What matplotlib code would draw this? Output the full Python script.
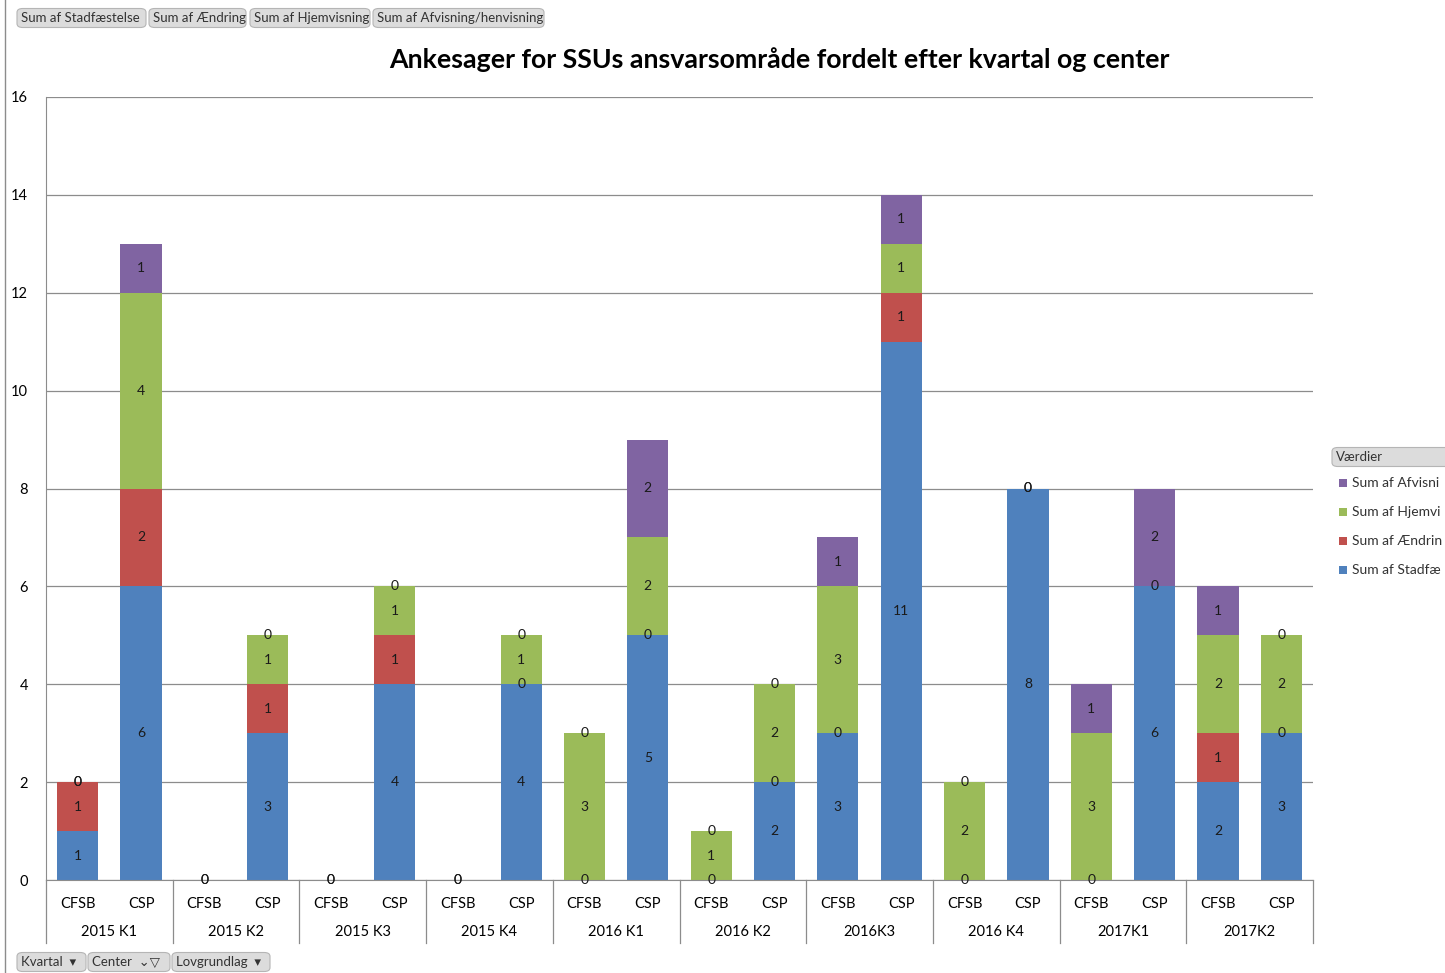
import matplotlib.pyplot as plt
from matplotlib.patches import FancyBboxPatch, Rectangle
import numpy as np

plt.rcParams['font.family'] = ['Lato', 'DejaVu Sans']

kvartaler = ['2015 K1', '2015 K2', '2015 K3', '2015 K4', '2016 K1',
             '2016 K2', '2016K3', '2016 K4', '2017K1', '2017K2']
centre = ['CFSB', 'CSP']
nan = np.nan

# one value per bar: CFSB, CSP for each quarter (nan = no record)
stadfaestelse = [1, 6, 0, 3, 0, 4, 0, 4, 0, 5, 0, 2, 3, 11, 0, 8, 0, 6, 2, 3]
aendring = [1, 2, nan, 1, nan, 1, nan, 0, nan, 0, nan, 0, 0, 1, nan, 0, nan, 0, 1, 0]
hjemvisning = [0, 4, 0, 1, 0, 1, 0, 1, 3, 2, 1, 2, 3, 1, 2, nan, 3, nan, 2, 2]
afvisning = [0, 1, nan, 0, nan, 0, nan, 0, 0, 2, 0, 0, 1, 1, 0, 0, 1, 2, 1, 0]

series = [('Sum af Stadfæstelse', stadfaestelse, '#4F81BD'),
          ('Sum af Ændring', aendring, '#C0504D'),
          ('Sum af Hjemvisning', hjemvisning, '#9BBB59'),
          ('Sum af Afvisning/henvisning', afvisning, '#8064A2')]

W, H = 1445, 973
fig = plt.figure(figsize=(W / 100, H / 100), dpi=100)
L, R, T, B = 46, 1313, 97, 880
ax = fig.add_axes([L / W, 1 - B / H, (R - L) / W, (B - T) / H])

x = np.arange(len(kvartaler) * len(centre))
bottom = np.zeros(len(x))
for name, vals, col in series:
    v = np.array(vals, dtype=float)
    h = np.nan_to_num(v)
    ax.bar(x, h, 0.65, bottom=bottom, color=col, zorder=2)
    for i in range(len(x)):
        if not np.isnan(v[i]):
            ax.text(x[i], bottom[i] + h[i] / 2, '%d' % v[i], ha='center', va='center',
                    fontsize=10, color='#1a1a1a', zorder=3)
    bottom += h

ax.set_xlim(-0.5, len(x) - 0.5)
ax.set_ylim(0, 16)
ax.set_yticks(range(0, 17, 2))
ax.yaxis.grid(True, color='#8c8c8c', lw=0.9, zorder=0)
ax.tick_params(axis='y', length=0, pad=13, labelsize=10.5)
ax.tick_params(axis='x', length=0, pad=12, labelsize=10.5)
ax.set_xticks(x)
ax.set_xticklabels(centre * len(kvartaler))
for s in ['top', 'right']:
    ax.spines[s].set_visible(False)
ax.spines['left'].set_color('#8c8c8c')
ax.spines['bottom'].set_color('#8c8c8c')

# quarter labels and group separators
trans = ax.get_xaxis_transform()
for k, q in enumerate(kvartaler):
    ax.text(2 * k + 0.5, -0.0665, q, transform=trans, ha='center', va='center', fontsize=10.5)
for b in np.arange(-0.5, len(x), 2):
    ax.plot([b, b], [0, -0.08], transform=trans, color='#8c8c8c', lw=0.9, clip_on=False)

fig.text(779 / W, 1 - 60 / H, 'Ankesager for SSUs ansvarsområde fordelt efter kvartal og center',
         ha='center', va='center', fontsize=19.3, fontweight='bold')

# chart area border on the left
fig.add_artist(plt.Line2D([5 / W, 5 / W], [0, 1], color='#8c8c8c', lw=1))


def knap(x0, x1, yc, label, fs=9.5):
    hgt = 19
    fig.add_artist(FancyBboxPatch((x0 / W, 1 - (yc + hgt / 2) / H), (x1 - x0) / W, hgt / H,
                                  boxstyle='round,pad=0,rounding_size=0.004',
                                  fc='#dcdcdc', ec='#b5b5b5', lw=0.8, transform=fig.transFigure))
    fig.text((x0 + 4) / W, 1 - yc / H, label, ha='left', va='center', fontsize=fs, color='#333333')


knap(17, 146, 18, 'Sum af Stadfæstelse')
knap(149, 246, 18, 'Sum af Ændring')
knap(250, 370, 18, 'Sum af Hjemvisning')
knap(373, 544, 18, 'Sum af Afvisning/henvisning')
knap(17, 86, 962, 'Kvartal  ▾')
knap(88, 170, 962, 'Center  ⌄▽')
knap(172, 270, 962, 'Lovgrundlag  ▾')

# legend: the chart is cut at the right edge, so the entries show only their start
legend_tekst = ['Sum af Afvisni', 'Sum af Hjemvi', 'Sum af Ændrin', 'Sum af Stadfæ']
knap(1332, 1460, 457, 'Værdier')
for j, ((name, vals, col), tekst) in enumerate(zip(reversed(series), legend_tekst)):
    yc = 483 + j * 29
    fig.add_artist(Rectangle((1339 / W, 1 - (yc + 4) / H), 8 / W, 8 / H, fc=col, ec='none',
                             transform=fig.transFigure))
    fig.text(1352 / W, 1 - yc / H, tekst, ha='left', va='center',
             fontsize=10, color='#333333')

fig.savefig('out.png', dpi=100)
